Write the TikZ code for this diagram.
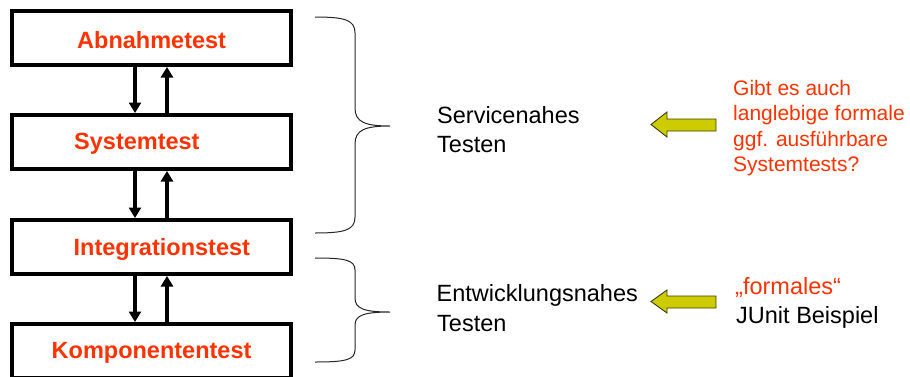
\documentclass[tikz,border=0pt]{standalone}
\usepackage{fontspec}
\setmainfont{Liberation Sans}
\usetikzlibrary{arrows.meta}
\definecolor{testred}{RGB}{255,51,0}
\definecolor{hintyellow}{RGB}{204,204,0}
\definecolor{hintedge}{RGB}{60,60,0}
\tikzset{
  levelbox/.style={draw=black, line width=4pt, fill=white, rectangle,
    minimum width=279pt, minimum height=54pt, inner sep=0pt, outer sep=0.5\pgflinewidth},
  levellabel/.style={anchor=base west, inner sep=0pt, text=testred,
    font=\fontsize{23.5}{28}\selectfont\bfseries},
  flow/.style={line width=3.2pt, -{Triangle[width=12pt,length=10.5pt]}},
  bracepath/.style={line width=1pt, draw=black!85},
  sidetext/.style={anchor=base west, inner sep=0pt, align=left,
    font=\fontsize{23.5}{29.3}\selectfont},
  notetext/.style={anchor=base west, inner sep=0pt, align=left, text=testred,
    font=\fontsize{21}{25.3}\selectfont},
  hintarrow/.style={fill=hintyellow, draw=hintedge, line width=0.9pt, line join=miter},
}
\begin{document}
\begin{tikzpicture}[x=1pt, y=-1pt]
  \useasboundingbox (0,0) rectangle (910,376);
  \clip (0,0) rectangle (910,376);

  % test levels
  \node[levelbox] (b1) at (151.5,38) {};
  \node[levelbox] (b2) at (151.5,142) {};
  \node[levelbox] (b3) at (151.5,247) {};
  \node[levelbox] (b4) at (151.5,351) {};

  \node[levellabel] (l1) at (77,48.3) {Abnahmetest};
  \node[levellabel] (l2) at (74,149.3) {Systemtest};
  \node[levellabel] (l3) at (73.5,255) {Integrationstest};
  \node[levellabel] (l4) at (51.5,358.3) {Komponententest};

  % downward and upward connections
  \coordinate (xdown) at (135,0);
  \coordinate (xup) at (167,0);
  \foreach \a/\b in {b1/b2, b2/b3, b3/b4} {
    \draw[flow] (\a.south -| xdown) -- (\b.north -| xdown);
    \draw[flow] (\b.north -| xup) -- (\a.south -| xup);
  }

  % braces grouping the levels
  \draw[bracepath] (315,17) .. controls (345,17) and (355,20) .. (355,33)
    -- (355,108) .. controls (355,122) and (365,126) .. (390,126)
    .. controls (365,126) and (355,130) .. (355,144)
    -- (355,217) .. controls (355,230) and (345,233) .. (315,233);
  \draw[bracepath] (315,258) .. controls (345,258) and (355,260) .. (355,270)
    -- (355,298) .. controls (355,309) and (365,312) .. (390,312)
    .. controls (365,312) and (355,315) .. (355,325)
    -- (355,350) .. controls (355,360) and (345,362) .. (315,362);

  % group captions
  \node[sidetext] (s1) at (437,123.3) {Servicenahes};
  \node[sidetext] (s1b) at (437,152.3) {Testen};
  \node[sidetext] (s2) at (436.5,301.7) {Entwicklungsnahes};
  \node[sidetext] (s2b) at (437,331.2) {Testen};

  % hint arrows
  \draw[hintarrow] (651,124.5) -- (667,112) -- (667,119) -- (716,119)
    -- (716,131) -- (667,131) -- (667,137) -- cycle;
  \draw[hintarrow] (651,301.5) -- (667,290) -- (667,296) -- (716,296)
    -- (716,308) -- (667,308) -- (667,313) -- cycle;

  % remarks
  \node[notetext] (n1) at (733,95.5) {Gibt es auch};
  \node[notetext] (n2) at (733,120.8) {langlebige formale};
  \node[notetext] (n3) at (733,146.1) {ggf. ausführbare};
  \node[notetext] (n4) at (733,171.4) {Systemtests?};
  \node[sidetext, text=testred] (n5) at (735,294.3) {„formales“};
  \node[sidetext] (n6) at (736,323.3) {JUnit Beispiel};
\end{tikzpicture}
\end{document}
